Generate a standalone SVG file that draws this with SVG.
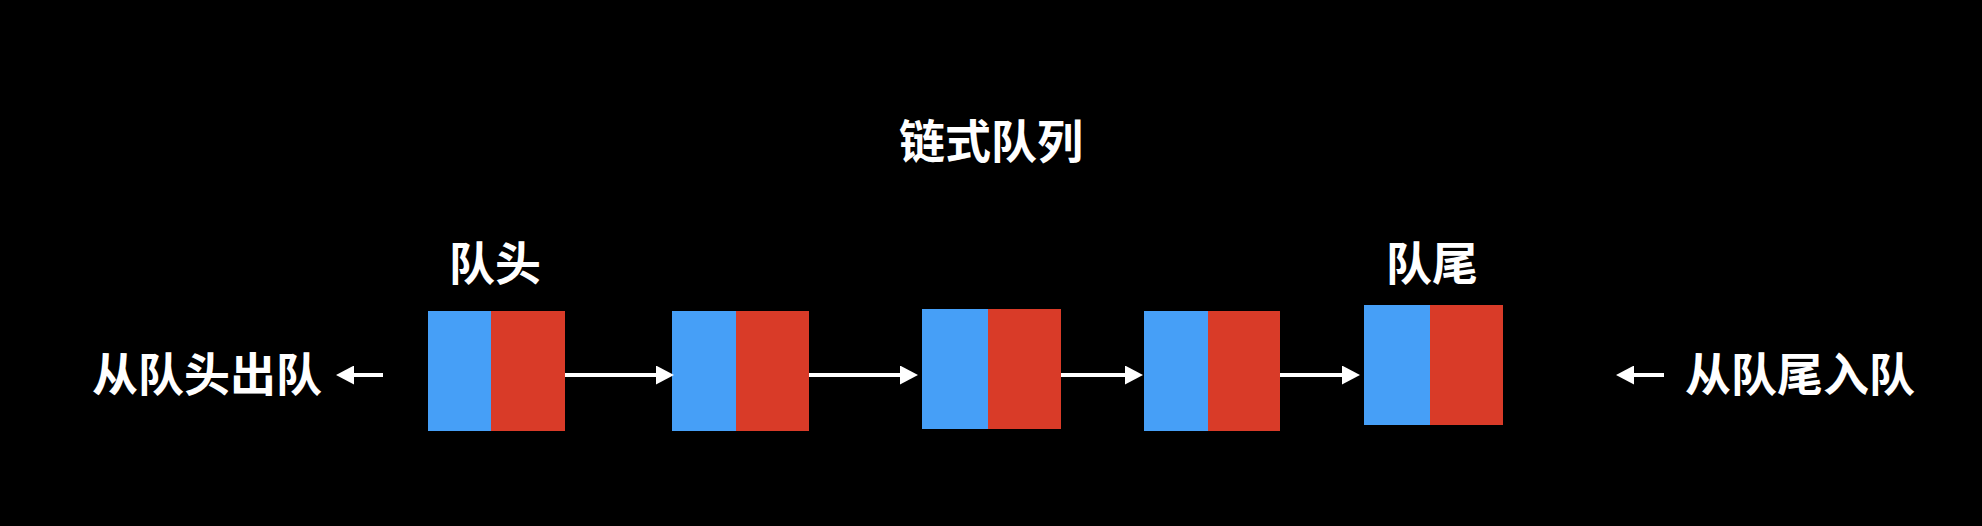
<svg xmlns="http://www.w3.org/2000/svg" width="1982" height="526" viewBox="0 0 1982 526">
<defs>
<style>
.bg{fill:#000000}
.b{fill:#469FF7}
.r{fill:#D93B28}
.t{fill:#FFFFFF;font-family:"Noto Sans CJK SC","Noto Sans CJK TC",sans-serif;font-weight:bold;font-size:46px;text-anchor:middle}
.c{stroke:#FFFFFF;stroke-width:4;fill:none;marker-end:url(#ah)}
</style>
<marker id="ah" viewBox="0 0 18 19" refX="8" refY="9.5" markerWidth="18" markerHeight="19" markerUnits="userSpaceOnUse" orient="auto">
<path d="M0,0 L18,9.5 L0,19 z" fill="#FFFFFF"/>
</marker>
</defs>
<rect class="bg" x="0" y="0" width="1982" height="526"/>
<text class="t" x="991" y="158">链式队列</text>
<text class="t" x="495" y="280">队头</text>
<text class="t" x="1432" y="280">队尾</text>
<text class="t" x="207" y="391">从队头出队</text>
<text class="t" x="1800" y="391">从队尾入队</text>
<g id="node1"><rect class="b" x="428" y="311" width="63" height="120"/><rect class="r" x="491" y="311" width="74" height="120"/></g>
<g id="node2"><rect class="b" x="672" y="311" width="64" height="120"/><rect class="r" x="736" y="311" width="73" height="120"/></g>
<g id="node3"><rect class="b" x="922" y="309" width="66" height="120"/><rect class="r" x="988" y="309" width="73" height="120"/></g>
<g id="node4"><rect class="b" x="1144" y="311" width="64" height="120"/><rect class="r" x="1208" y="311" width="72" height="120"/></g>
<g id="node5"><rect class="b" x="1364" y="305" width="66" height="120"/><rect class="r" x="1430" y="305" width="73" height="120"/></g>
<g id="connectors">
<line class="c" x1="565" y1="375" x2="664" y2="375"/>
<line class="c" x1="809" y1="375" x2="908" y2="375"/>
<line class="c" x1="1061" y1="375" x2="1133" y2="375"/>
<line class="c" x1="1280" y1="375" x2="1350" y2="375"/>
<line class="c" x1="383" y1="375" x2="346" y2="375"/>
<line class="c" x1="1664" y1="375" x2="1626" y2="375"/>
</g>
</svg>
